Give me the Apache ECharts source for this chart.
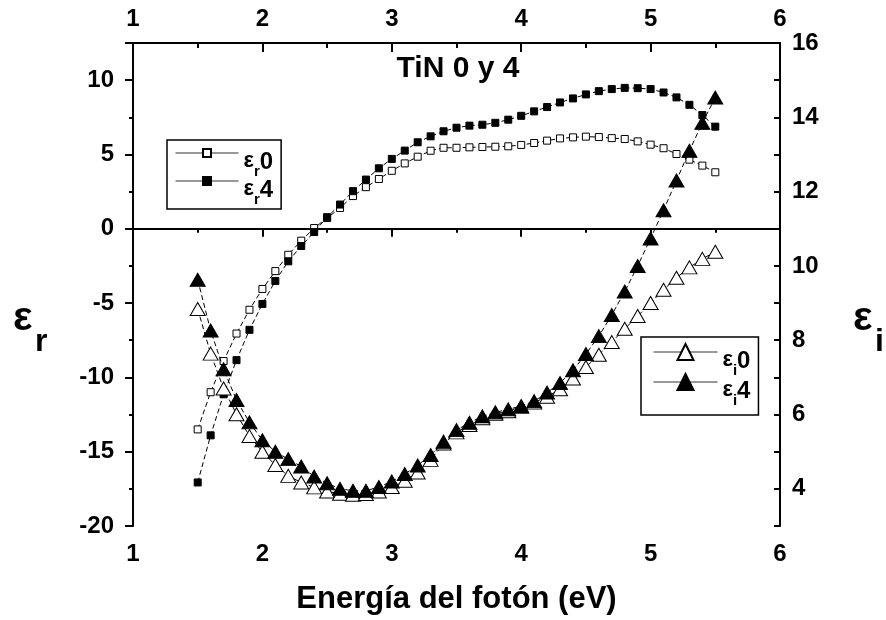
<!DOCTYPE html>
<html><head><meta charset="utf-8">
<script src="https://cdn.jsdelivr.net/npm/echarts@6/dist/echarts.min.js"></script>
<style>html,body{margin:0;padding:0;background:#fff}#c{width:886px;height:620px}</style>
</head><body><div id="c"></div>
<script>
const energy = [1.5,1.6,1.7,1.8,1.9,2.0,2.1,2.2,2.3,2.4,2.5,2.6,2.7,2.8,2.9,3.0,3.1,3.2,3.3,3.4,3.5,3.6,3.7,3.8,3.9,4.0,4.1,4.2,4.3,4.4,4.5,4.6,4.7,4.8,4.9,5.0,5.1,5.2,5.3,5.4,5.5];
const er0 = [-13.5,-11.0,-8.9,-7.05,-5.45,-4.05,-2.85,-1.75,-0.8,0.05,0.72,1.4,2.2,2.8,3.35,3.9,4.4,4.85,5.25,5.45,5.45,5.48,5.5,5.52,5.55,5.64,5.77,5.93,6.08,6.15,6.2,6.17,6.1,6.04,5.88,5.66,5.42,5.03,4.65,4.25,3.8];
const er4 = [-17.07,-13.9,-11.14,-8.84,-6.8,-5.06,-3.51,-2.19,-1.16,-0.22,0.78,1.63,2.53,3.31,4.07,4.7,5.26,5.82,6.22,6.56,6.8,6.94,7.0,7.13,7.34,7.6,7.9,8.19,8.5,8.77,9.04,9.26,9.4,9.48,9.46,9.4,9.17,8.84,8.34,7.65,6.87];
const ei0 = [8.84,7.64,6.7,6.01,5.42,5.0,4.64,4.35,4.17,4.04,3.93,3.87,3.84,3.86,3.93,4.05,4.22,4.44,4.78,5.22,5.52,5.72,5.9,6.02,6.09,6.21,6.32,6.48,6.68,6.97,7.28,7.61,7.95,8.31,8.65,9.0,9.36,9.68,9.96,10.19,10.38];
const ei4 = [9.63,8.26,7.22,6.39,5.79,5.31,5.0,4.8,4.6,4.33,4.15,4.0,3.95,3.95,4.05,4.2,4.4,4.63,4.91,5.27,5.58,5.78,5.95,6.06,6.14,6.23,6.36,6.59,6.85,7.19,7.63,8.11,8.68,9.31,10.0,10.74,11.5,12.3,13.1,13.85,14.53];
const seriesNames = ['εr0','εr4','εi0','εi4'];
const titleText = 'TiN 0 y 4';
const xTitle = 'Energía del fotón (eV)';

const FONT = "'Liberation Sans', Arial, Helvetica, sans-serif";
const chart = echarts.init(document.getElementById('c'));
function pairs(ys){ return energy.map((x,i)=>[x, ys[i]]); }
const lineSt = {color:'#000', width:1, type:[5,3]};
const labelBase = {color:'#000', fontSize:24, fontWeight:'bold', fontFamily:FONT};
const rich = {
  e:{fontSize:22, fontWeight:'bold', fontFamily:FONT, color:'#000', lineHeight:22, padding:[8,0,0,0], verticalAlign:'top'},
  s:{fontSize:15, fontWeight:'bold', fontFamily:FONT, color:'#000', lineHeight:16, padding:[22,0,0,0], verticalAlign:'top'},
  n:{fontSize:24, fontWeight:'bold', fontFamily:FONT, color:'#000', lineHeight:22, padding:[8,0,0,0], verticalAlign:'top'}
};
function legendFmt(name){ return '{e|ε}{s|' + name.charAt(1) + '}{n|' + name.charAt(2) + '}'; }
const axisLineSt = {show:true, lineStyle:{color:'#000', width:2}};

chart.setOption({
  animation:false,
  backgroundColor:'#fff',
  grid:{left:133, right:106, top:43, bottom:93, containLabel:false},
  xAxis:[
    {type:'value', position:'bottom', min:1, max:6, interval:1,
     axisLine:axisLineSt, axisTick:{show:true, inside:false, length:8, lineStyle:{color:'#000', width:2}},
     minorTick:{show:true, splitNumber:2, length:4, lineStyle:{color:'#000', width:2}},
     splitLine:{show:false}, axisLabel:Object.assign({margin:16}, labelBase),
     name:xTitle, nameLocation:'middle', nameGap:58,
     nameTextStyle:{color:'#000', fontSize:31, fontWeight:'bold', fontFamily:FONT}},
    {type:'value', position:'top', min:1, max:6, interval:1,
     axisLine:axisLineSt, axisTick:{show:true, inside:true, length:9, lineStyle:{color:'#000', width:2}},
     minorTick:{show:true, splitNumber:2, length:5, lineStyle:{color:'#000', width:2}},
     splitLine:{show:false}, axisLabel:Object.assign({margin:12}, labelBase)}
  ],
  yAxis:[
    {type:'value', position:'left', min:-20, max:12.5, interval:5,
     axisLine:axisLineSt, axisTick:{show:true, inside:false, length:8, lineStyle:{color:'#000', width:2}},
     minorTick:{show:true, splitNumber:2, length:4, lineStyle:{color:'#000', width:2}},
     splitLine:{show:false}, axisLabel:Object.assign({margin:19, showMaxLabel:false}, labelBase)},
    {type:'value', position:'right', min:3, max:16, interval:1,
     axisLine:axisLineSt, axisTick:{show:true, inside:true, length:6, lineStyle:{color:'#000', width:2}},
     splitLine:{show:false},
     axisLabel:Object.assign({margin:12, formatter:function(v){return v%2===0?String(v):'';}}, labelBase)}
  ],
  legend:[
    {show:true, orient:'vertical', left:167, top:140, data:['εr0','εr4'],
     itemWidth:63, itemHeight:10, itemGap:-9, padding:[2,8,2,8],
     borderColor:'#000', borderWidth:1.5, borderRadius:0,
     formatter:legendFmt, textStyle:{rich:rich},
     lineStyle:{type:'solid', width:1, color:'#333'}},
    {show:true, orient:'vertical', left:641, top:337, data:['εi0','εi4'],
     itemWidth:64, itemHeight:20, itemGap:-7, padding:[4,8,7,12],
     borderColor:'#000', borderWidth:1.5, borderRadius:0,
     formatter:legendFmt, textStyle:{rich:rich},
     lineStyle:{type:'solid', width:1, color:'#333'}}
  ],
  graphic:[
    {type:'text', x:458, y:69, style:{text:titleText, font:'bold 30px '+FONT, fill:'#000', align:'center', verticalAlign:'middle'}},
    {type:'text', x:13, y:319, style:{text:'ε', font:'bold 41px '+FONT, fill:'#000', align:'left', verticalAlign:'middle'}},
    {type:'text', x:35, y:342, style:{text:'r', font:'bold 32px '+FONT, fill:'#000', align:'left', verticalAlign:'middle'}},
    {type:'text', x:853, y:319, style:{text:'ε', font:'bold 41px '+FONT, fill:'#000', align:'left', verticalAlign:'middle'}},
    {type:'text', x:875, y:342, style:{text:'i', font:'bold 32px '+FONT, fill:'#000', align:'left', verticalAlign:'middle'}}
  ],
  series:[
    {name:'εr0', type:'line', xAxisIndex:0, yAxisIndex:0, data:pairs(er0),
     symbol:'rect', symbolSize:7, showAllSymbol:true,
     itemStyle:{color:'#fff', borderColor:'#000', borderWidth:1},
     lineStyle:lineSt, z:2,
     markLine:{silent:true, symbol:['none','none'], label:{show:false},
       lineStyle:{color:'#000', width:2, type:'solid'}, data:[{yAxis:0}]}},
    {name:'εr4', type:'line', xAxisIndex:0, yAxisIndex:0, data:pairs(er4),
     symbol:'rect', symbolSize:7, showAllSymbol:true,
     itemStyle:{color:'#000', borderColor:'#000', borderWidth:1},
     lineStyle:lineSt, z:3},
    {name:'εi0', type:'line', xAxisIndex:0, yAxisIndex:1, data:pairs(ei0),
     symbol:'triangle', symbolSize:[15,13], showAllSymbol:true,
     itemStyle:{color:'#fff', borderColor:'#000', borderWidth:1},
     lineStyle:lineSt, z:4},
    {name:'εi4', type:'line', xAxisIndex:0, yAxisIndex:1, data:pairs(ei4),
     symbol:'triangle', symbolSize:[15,13], showAllSymbol:true,
     itemStyle:{color:'#000', borderColor:'#000', borderWidth:1},
     lineStyle:lineSt, z:5}
  ]
});
</script></body></html>
